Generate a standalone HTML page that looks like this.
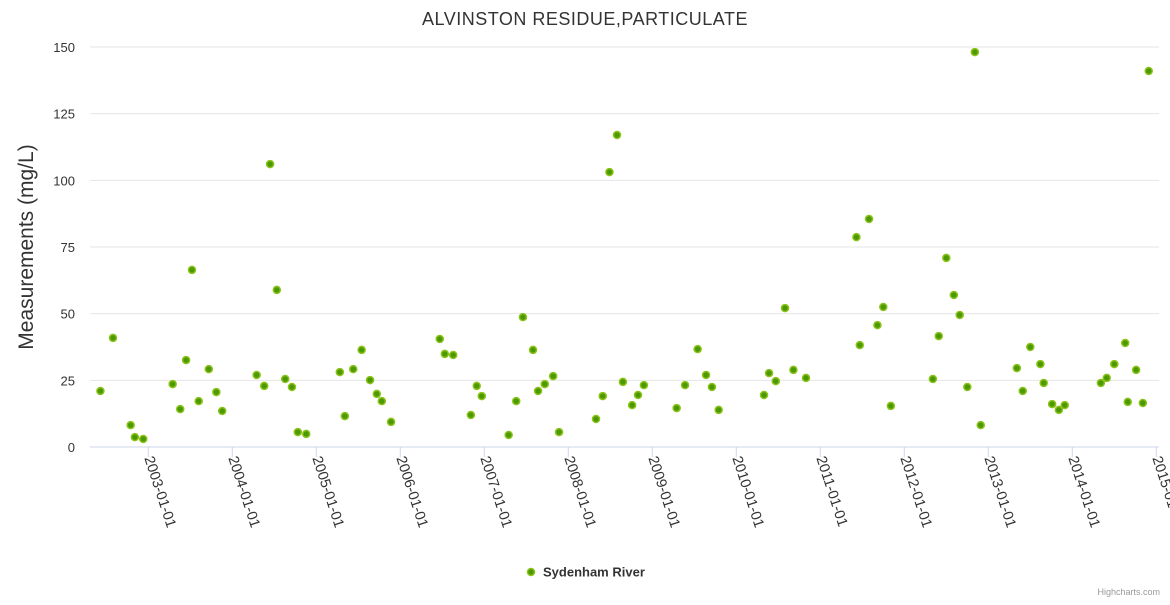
<!DOCTYPE html>
<html><head><meta charset="utf-8"><style>
body{margin:0;background:#fff;font-family:"Liberation Sans",sans-serif}
</style></head><body>
<svg id="chart" width="1170" height="600" xmlns="http://www.w3.org/2000/svg">
<text x="585" y="25" text-anchor="middle" font-size="18" fill="#333" letter-spacing="0.5">ALVINSTON RESIDUE,PARTICULATE</text>
<text transform="translate(33,247) rotate(-90)" text-anchor="middle" font-size="21" fill="#333">Measurements (mg/L)</text>
<g id="grid"></g><g id="xaxis"></g><g id="pts"></g>
<g>
<circle cx="531" cy="572" r="3.5" fill="#4a9a00" stroke="#8cc21a" stroke-width="1.5"/>
<text x="543" y="576.5" font-size="13" font-weight="bold" fill="#333">Sydenham River</text>
</g>
<text x="1160" y="595" text-anchor="end" font-size="9" fill="#999">Highcharts.com</text>
</svg>
<script>
const years=[2002.43,2002.58,2002.79,2002.84,2002.94,2003.29,2003.38,2003.45,2003.52,2003.60,2003.72,2003.81,2003.88,2004.29,2004.38,2004.45,2004.53,2004.63,2004.71,2004.78,2004.88,2005.28,2005.34,2005.44,2005.54,2005.64,2005.72,2005.78,2005.89,2006.47,2006.53,2006.63,2006.84,2006.91,2006.97,2007.29,2007.38,2007.46,2007.58,2007.64,2007.72,2007.82,2007.89,2008.33,2008.41,2008.49,2008.58,2008.65,2008.76,2008.83,2008.90,2009.29,2009.39,2009.54,2009.64,2009.71,2009.79,2010.33,2010.39,2010.47,2010.58,2010.68,2010.83,2011.43,2011.47,2011.58,2011.68,2011.75,2011.84,2012.34,2012.41,2012.50,2012.59,2012.66,2012.75,2012.84,2012.91,2013.34,2013.41,2013.50,2013.62,2013.66,2013.76,2013.84,2013.91,2014.34,2014.41,2014.50,2014.63,2014.66,2014.76,2014.84,2014.91];
const values=[21.0,40.9,8.2,3.7,3.0,23.6,14.2,32.6,66.4,17.2,29.2,20.6,13.5,27.0,22.9,106.1,58.9,25.5,22.5,5.6,4.9,28.1,11.6,29.2,36.4,25.1,19.9,17.2,9.4,40.5,34.9,34.5,12.0,22.9,19.1,4.5,17.2,48.7,36.4,21.0,23.6,26.6,5.6,10.5,19.1,103.1,117,24.4,15.7,19.5,23.2,14.6,23.2,36.7,27.0,22.5,13.9,19.5,27.7,24.7,52.1,28.9,25.9,78.7,38.2,85.5,45.7,52.5,15.4,25.5,41.6,70.9,57.0,49.5,22.5,148.1,8.2,29.6,21.0,37.5,31.1,24.0,16.1,13.9,15.7,24.0,25.9,31.1,39.0,16.9,28.9,16.5,141.0];
const yTicks=[0,25,50,75,100,125,150];
const xTickYears=[2003,2004,2005,2006,2007,2008,2009,2010,2011,2012,2013,2014,2015];
const NS="http://www.w3.org/2000/svg";
const L=90,R=1159,T=47,B=447;
const xs=y=>148.3+(y-2003)*84;
const ys=v=>B-(v/150)*(B-T);
function mk(t,a,p){const e=document.createElementNS(NS,t);for(const k in a)e.setAttribute(k,a[k]);p.appendChild(e);return e;}
const grid=document.getElementById('grid');
yTicks.forEach(v=>{
 const l=mk('line',{x1:L,x2:R,y1:ys(v),y2:ys(v),stroke:v===0?'#ccd6eb':'#e6e6e6','stroke-width':1},grid);
 
 
 const t=mk('text',{x:75,y:ys(v)+5,'text-anchor':'end','font-size':13,fill:'#333'},grid);
 t.textContent=v;
 
 
});
const xa=document.getElementById('xaxis');
xTickYears.forEach(y=>{
 const x=xs(y);
 const l=mk('line',{x1:x,x2:x,y1:B,y2:B+10,stroke:'#ccd6eb'},xa);
 
 
 const t=mk('text',{transform:`translate(${x-4},${B+11}) rotate(72)`,'font-size':14.5,fill:'#333'},xa);
 t.textContent=y+'-01-01';
 
 
});
const pts=document.getElementById('pts');
years.forEach((yr,i)=>{
 const c=mk('circle',{cx:xs(yr),cy:ys(values[i]),r:3.5,fill:'#4a9a00',stroke:'#8cc21a','stroke-width':1.5},pts);
 
 
});
</script>
</body></html>
